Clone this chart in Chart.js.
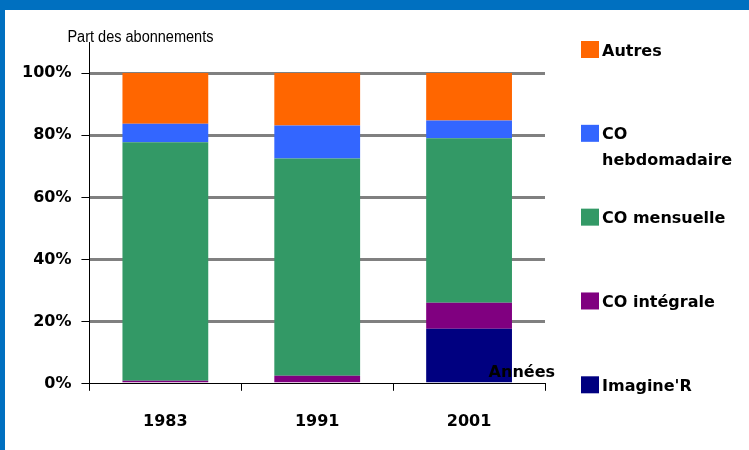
<!DOCTYPE html>
<html>
<head>
<meta charset="utf-8">
<script src="https://cdn.jsdelivr.net/npm/chart.js@4/dist/chart.umd.min.js"></script>
<style>
  html, body { margin: 0; padding: 0; background: #fff; }
  #frame { width: 744px; height: 440px; border-top: 10px solid #0070C0; border-left: 5px solid #0070C0; background: #fff; }
  canvas { display: block; }
</style>
</head>
<body>
<div id="frame"><canvas id="c" width="744" height="440"></canvas></div>
<script>
// ---- data ----
const categories = ['1983', '1991', '2001'];
const imagineR   = [0, 0, 17.7];
const coIntegrale = [1, 2.6, 8.4];
const coMensuelle = [76.7, 69.9, 52.9];
const coHebdo    = [6, 10.6, 5.7];
const autres     = [16.3, 16.9, 15.3];
const seriesNames = ["Imagine'R", 'CO intégrale', 'CO mensuelle', 'CO hebdomadaire', 'Autres'];
const seriesColors = ['#000080', '#800080', '#339966', '#3366FF', '#FF6600'];
const yTickValues = [0, 20, 40, 60, 80, 100];
const yTitle = 'Part des abonnements';
const xTitle = 'Années';

const seriesValues = [imagineR, coIntegrale, coMensuelle, coHebdo, autres];
const BOLD = 'bold 16px "DejaVu Sans"';
const TITLE_WIDTH = 146;

const customText = {
  id: 'customText',
  afterDraw(chart) {
    const ctx = chart.ctx;
    const a = chart.chartArea;
    const yScale = chart.scales.y;
    ctx.save();
    // y title (slightly condensed)
    ctx.font = '500 16px "Liberation Sans"';
    ctx.fillStyle = '#000';
    ctx.textAlign = 'left';
    ctx.textBaseline = 'alphabetic';
    const sx = TITLE_WIDTH / ctx.measureText(yTitle).width;
    ctx.save();
    ctx.translate(a.left - 22, a.top);
    ctx.scale(sx, 1);
    ctx.fillText(yTitle, 0, 0);
    ctx.restore();
    // x title
    ctx.font = BOLD;
    ctx.textAlign = 'right';
    ctx.textBaseline = 'middle';
    ctx.fillText(xTitle, a.right + 10, yScale.getPixelForValue(0) - 11);
    // legend
    const ds = chart.data.datasets.slice().reverse();
    const step = (a.bottom + 1 - (a.top + 7.5)) / (ds.length - 1);
    const sqX = a.right + 36;
    const txX = a.right + 57;
    const maxW = chart.width - txX - 4;
    ctx.textAlign = 'left';
    ctx.textBaseline = 'alphabetic';
    ds.forEach((d, i) => {
      const cy = a.top + 7.5 + i * step;
      ctx.fillStyle = d.backgroundColor;
      ctx.fillRect(sqX, cy - 8.5, 18, 17);
      ctx.fillStyle = '#000';
      const words = d.label.split(' ');
      const lines = [];
      let cur = '';
      words.forEach(w => {
        const t = cur ? cur + ' ' + w : w;
        if (cur && ctx.measureText(t).width > maxW) { lines.push(cur); cur = w; }
        else cur = t;
      });
      lines.push(cur);
      lines.forEach((ln, k) => ctx.fillText(ln, txX, cy + 6 + k * 26));
    });
    ctx.restore();
  }
};

new Chart(document.getElementById('c'), {
  type: 'bar',
  data: {
    labels: categories,
    datasets: seriesNames.map((n, i) => ({
      label: n,
      data: seriesValues[i],
      backgroundColor: seriesColors[i],
      borderWidth: 0,
      barPercentage: 0.565,
      categoryPercentage: 1
    }))
  },
  options: {
    responsive: false,
    devicePixelRatio: 1,
    animation: false,
    layout: { padding: { left: 7, right: 204, top: 32, bottom: 2 } },
    plugins: { legend: { display: false }, tooltip: { enabled: false } },
    scales: {
      x: {
        stacked: true,
        afterFit: (scale) => { scale.height -= 4; },
        grid: { offset: true, drawOnChartArea: false, tickColor: '#000', tickLength: 7, tickWidth: 1 },
        border: { display: true, color: '#000', width: 1 },
        ticks: { font: { family: 'DejaVu Sans', size: 16, weight: 'bold' }, color: '#000', padding: 21 }
      },
      y: {
        stacked: true,
        min: 0,
        max: 110,
        afterBuildTicks: (scale) => { scale.ticks = yTickValues.map(v => ({ value: v })); },
        ticks: {
          font: { family: 'DejaVu Sans', size: 16, weight: 'bold' },
          color: '#000',
          padding: 10,
          callback: (v) => v + '%'
        },
        grid: {
          color: (c) => (c.tick && c.tick.value === 0) ? 'rgba(0,0,0,0)' : '#808080',
          lineWidth: 3,
          tickColor: '#000',
          tickLength: 8,
          tickWidth: 1
        },
        border: { display: true, color: '#000', width: 1 }
      }
    }
  },
  plugins: [customText]
});
</script>
</body>
</html>
